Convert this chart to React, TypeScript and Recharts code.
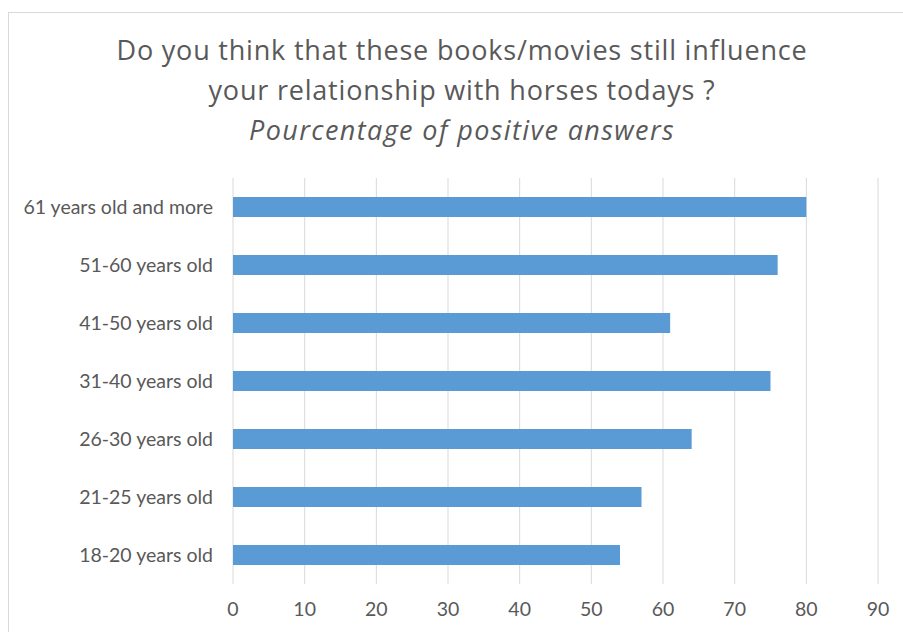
import React from "react";
import { BarChart, Bar, XAxis, YAxis, CartesianGrid } from "recharts";

const categories = [
  "61 years old and more",
  "51-60 years old",
  "41-50 years old",
  "31-40 years old",
  "26-30 years old",
  "21-25 years old",
  "18-20 years old",
];
const values = [80, 76, 61, 75, 64, 57, 54];
const xTicks = [0, 10, 20, 30, 40, 50, 60, 70, 80, 90];
const titleLines = [
  "Do you think that these books/movies still influence",
  "your relationship with horses todays ?",
];
const subtitle = "Pourcentage of positive answers";

const data = categories.map((c, i) => ({ category: c, value: values[i] }));

const FONT = "Lato, 'Open Sans', sans-serif";
const TITLE_FONT = "'Open Sans', Lato, sans-serif";
const GRAY = "#595959";

export default function App() {
  return (
    <div
      style={{
        position: "fixed",
        left: 8,
        top: 12,
        width: 895,
        height: 620,
        borderLeft: "1px solid #d9d9d9",
        borderTop: "1px solid #d9d9d9",
        boxSizing: "border-box",
        background: "#fff",
        fontFamily: FONT,
        overflow: "hidden",
      }}
    >
      <div
        style={{
          position: "absolute",
          left: 0,
          top: 17,
          width: 906,
          textAlign: "center",
          color: GRAY,
          fontSize: 27,
          letterSpacing: 0.8,
          fontFamily: TITLE_FONT,
          lineHeight: "40px",
        }}
      >
        <div>{titleLines[0]}</div>
        <div>{titleLines[1]}</div>
        <div style={{ fontStyle: "italic", letterSpacing: 1.4 }}>{subtitle}</div>
      </div>
      <div style={{ position: "absolute", left: -1, top: -1 }}>
        <BarChart
          width={895}
          height={620}
          data={data}
          layout="vertical"
          margin={{ top: 166, right: 25, bottom: 0, left: 0 }}
          barCategoryGap={0}
        >
          <CartesianGrid horizontal={false} vertical={true} stroke="#d9d9d9" strokeWidth={1} />
          <XAxis
            type="number"
            domain={[0, 90]}
            ticks={xTicks}
            axisLine={false}
            tickLine={false}
            tickSize={6}
            tickMargin={12}
            height={48}
            interval={0}
            tick={{ fill: GRAY, fontSize: 19.5, fontFamily: FONT }}
          />
          <YAxis
            type="category"
            dataKey="category"
            width={225}
            axisLine={false}
            tickLine={false}
            tickSize={6}
            tickMargin={14}
            interval={0}
            tick={{ fill: GRAY, fontSize: 19.5, fontFamily: FONT }}
          />
          <Bar dataKey="value" fill="#5b9bd5" barSize={20} isAnimationActive={false} />
        </BarChart>
      </div>
    </div>
  );
}
